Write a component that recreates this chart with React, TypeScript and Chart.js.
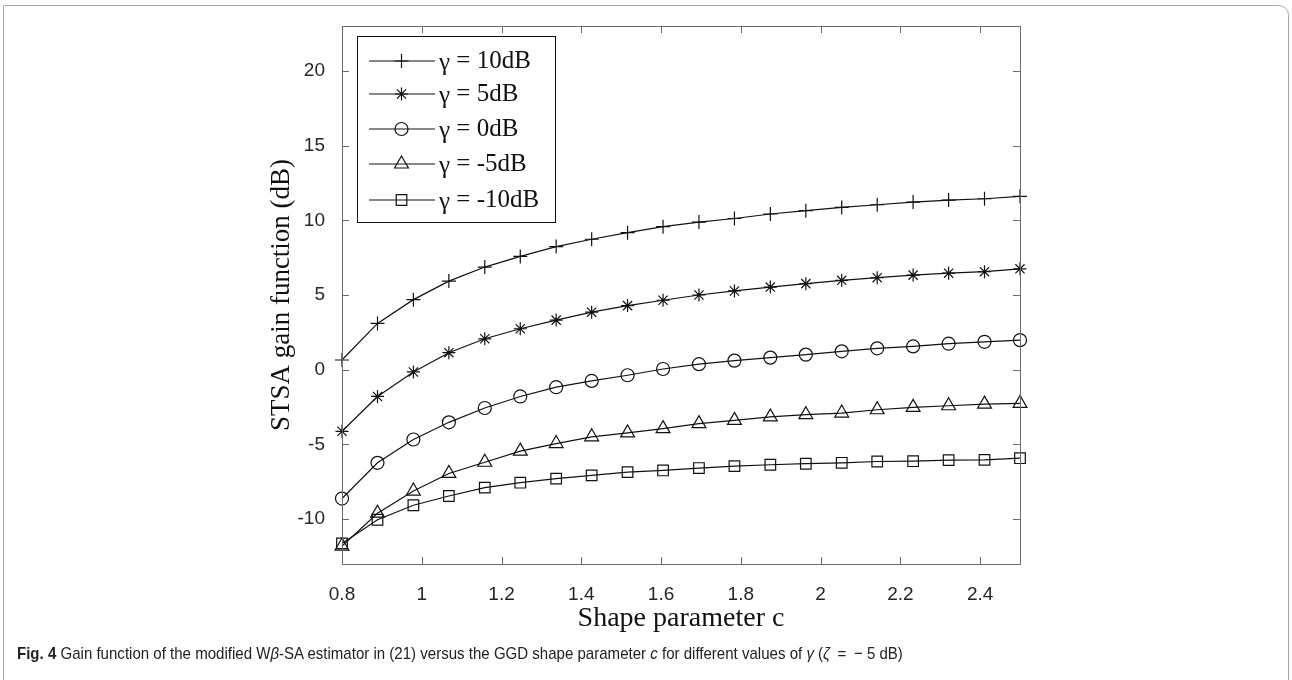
import React, { useEffect, useRef } from 'react';
import { Chart, registerables } from 'chart.js';

Chart.register(...registerables);

// ---- data ----
const C_VALUES = [0.8, 0.889, 0.979, 1.068, 1.158, 1.247, 1.337, 1.426, 1.516, 1.605, 1.695, 1.784, 1.874, 1.963, 2.053, 2.142, 2.232, 2.321, 2.411, 2.5];
const GAIN_10DB = [0.65, 3.1, 4.69, 5.93, 6.87, 7.58, 8.24, 8.73, 9.17, 9.57, 9.88, 10.12, 10.42, 10.64, 10.86, 11.04, 11.22, 11.35, 11.44, 11.6];
const GAIN_5DB = [-4.12, -1.79, -0.15, 1.14, 2.07, 2.74, 3.32, 3.85, 4.29, 4.65, 5.0, 5.27, 5.53, 5.76, 5.98, 6.16, 6.33, 6.46, 6.56, 6.75];
const GAIN_0DB = [-8.62, -6.23, -4.67, -3.52, -2.56, -1.79, -1.17, -0.75, -0.37, 0.05, 0.37, 0.61, 0.81, 1.01, 1.23, 1.43, 1.56, 1.74, 1.87, 1.98];
const GAIN_M5DB = [-11.8, -9.6, -8.12, -6.94, -6.19, -5.45, -4.94, -4.49, -4.23, -3.94, -3.61, -3.39, -3.16, -3.01, -2.9, -2.68, -2.52, -2.41, -2.3, -2.25];
const GAIN_M10DB = [-11.62, -10.04, -9.07, -8.45, -7.89, -7.56, -7.29, -7.07, -6.85, -6.74, -6.58, -6.45, -6.36, -6.29, -6.23, -6.14, -6.12, -6.05, -6.03, -5.92];
const SERIES_LABELS = ['10dB', '5dB', '0dB', '-5dB', '-10dB'];
const X_TICKS = [0.8, 1, 1.2, 1.4, 1.6, 1.8, 2, 2.2, 2.4];
const Y_TICKS = [-10, -5, 0, 5, 10, 15, 20];
const X_TITLE = 'Shape parameter c';
const Y_TITLE = 'STSA gain function (dB)';

// ---- styles / layout ----
const W = 1292;
const H = 680;
const AREA = { left: 342, top: 26, right: 1020, bottom: 564 };
const MARKERS = ['cross', 'star', 'circle', 'triangle', 'rect'];
const RADII = [7, 6.5, 6.5, 8, 7.5];
const LINE_COLOR = '#111111';
const AXIS_COLOR = '#6b6b6b';
const TICK_FONT = '"Liberation Sans", Arial, sans-serif';
const SERIF = '"Liberation Serif", "Times New Roman", serif';

function drawMarker(ctx: CanvasRenderingContext2D, style: string, x: number, y: number, r: number) {
  ctx.beginPath();
  if (style === 'cross') {
    ctx.moveTo(x - r, y); ctx.lineTo(x + r, y);
    ctx.moveTo(x, y - r); ctx.lineTo(x, y + r);
  } else if (style === 'star') {
    const d = r * Math.SQRT1_2;
    ctx.moveTo(x - r, y); ctx.lineTo(x + r, y);
    ctx.moveTo(x, y - r); ctx.lineTo(x, y + r);
    ctx.moveTo(x - d, y - d); ctx.lineTo(x + d, y + d);
    ctx.moveTo(x - d, y + d); ctx.lineTo(x + d, y - d);
  } else if (style === 'circle') {
    ctx.arc(x, y, r, 0, Math.PI * 2);
  } else if (style === 'triangle') {
    const h = r * Math.sin(Math.PI / 3);
    ctx.moveTo(x, y - r);
    ctx.lineTo(x + h, y + r / 2);
    ctx.lineTo(x - h, y + r / 2);
    ctx.closePath();
  } else if (style === 'rect') {
    const s = r * Math.SQRT1_2;
    ctx.rect(x - s, y - s, 2 * s, 2 * s);
  }
  ctx.stroke();
}

const matlabAxesPlugin = {
  id: 'matlabAxes',
  afterDraw(chart: any) {
    const { ctx, chartArea, scales } = chart;
    const { left, right, top, bottom } = chartArea;
    ctx.save();
    // box
    ctx.strokeStyle = AXIS_COLOR;
    ctx.lineWidth = 1;
    ctx.strokeRect(left + 0.5, top + 0.5, right - left, bottom - top);
    // inner ticks
    const tl = 7;
    ctx.beginPath();
    X_TICKS.forEach((v) => {
      const px = Math.round(scales.x.getPixelForValue(v)) + 0.5;
      ctx.moveTo(px, bottom); ctx.lineTo(px, bottom - tl);
      ctx.moveTo(px, top); ctx.lineTo(px, top + tl);
    });
    Y_TICKS.forEach((v) => {
      const py = Math.round(scales.y.getPixelForValue(v)) + 0.5;
      ctx.moveTo(left, py); ctx.lineTo(left + tl, py);
      ctx.moveTo(right, py); ctx.lineTo(right - tl, py);
    });
    ctx.stroke();

    // axis titles
    ctx.fillStyle = '#111111';
    ctx.textAlign = 'center';
    ctx.textBaseline = 'middle';
    ctx.font = `28px ${SERIF}`;
    ctx.fillText(X_TITLE, (left + right) / 2, 619);
    ctx.save();
    ctx.font = `27px ${SERIF}`;
    ctx.translate(282, (top + bottom) / 2);
    ctx.rotate(-Math.PI / 2);
    ctx.fillText(Y_TITLE, 0, 0);
    ctx.restore();

    // legend
    const lx = 357, ly = 36, lw = 198, lh = 186;
    ctx.fillStyle = '#ffffff';
    ctx.fillRect(lx, ly, lw, lh);
    ctx.strokeStyle = '#111111';
    ctx.lineWidth = 1;
    ctx.strokeRect(lx + 0.5, ly + 0.5, lw, lh);
    const rowY = [61, 94, 129, 164, 200];
    chart.data.datasets.forEach((ds: any, i: number) => {
      const y = rowY[i];
      ctx.strokeStyle = LINE_COLOR;
      ctx.lineWidth = 1.2;
      ctx.beginPath();
      ctx.moveTo(369, y); ctx.lineTo(435, y);
      ctx.stroke();
      drawMarker(ctx, MARKERS[i], 401.5, y, RADII[i]);
      ctx.fillStyle = '#111111';
      ctx.textAlign = 'left';
      ctx.textBaseline = 'middle';
      ctx.font = `25px ${SERIF}`;
      ctx.fillText('\u03B3', 439, y + 2);
      const gw = ctx.measureText('\u03B3').width;
      ctx.fillText(' = ' + SERIES_LABELS[i], 439 + gw, y);
    });
    ctx.restore();
  },
};

export default function App() {
  const canvasRef = useRef<HTMLCanvasElement | null>(null);

  useEffect(() => {
    const canvas = canvasRef.current;
    if (!canvas) return;
    const seriesValues = [GAIN_10DB, GAIN_5DB, GAIN_0DB, GAIN_M5DB, GAIN_M10DB];
    const chart = new Chart(canvas, {
      type: 'line',
      data: {
        datasets: seriesValues.map((vals, i) => ({
          label: '\u03B3 = ' + SERIES_LABELS[i],
          data: C_VALUES.map((c, j) => ({ x: c, y: vals[j] })),
          borderColor: LINE_COLOR,
          borderWidth: 1.2,
          backgroundColor: 'transparent',
          pointStyle: MARKERS[i] as any,
          pointRadius: RADII[i],
          pointBorderWidth: 1.2,
          pointBorderColor: LINE_COLOR,
          pointBackgroundColor: 'rgba(0,0,0,0)',
          tension: 0,
          fill: false,
          clip: false as any,
        })),
      },
      options: {
        responsive: false,
        animation: false,
        devicePixelRatio: 1,
        layout: { padding: { left: 0, top: AREA.top, right: W - AREA.right, bottom: 0 } },
        plugins: { legend: { display: false }, tooltip: { enabled: false }, title: { display: false } },
        scales: {
          x: {
            type: 'linear',
            min: 0.8,
            max: 2.5,
            grid: { display: false },
            border: { display: false },
            afterBuildTicks: (s: any) => { s.ticks = X_TICKS.map((v) => ({ value: v })); },
            afterFit: (s: any) => { s.height = H - AREA.bottom; },
            ticks: {
              autoSkip: false,
              maxRotation: 0,
              padding: 11,
              color: '#262626',
              font: { family: TICK_FONT, size: 19 },
              callback: (v: any) => String(v),
            },
          },
          y: {
            type: 'linear',
            min: -13,
            max: 23,
            grid: { display: false },
            border: { display: false },
            afterBuildTicks: (s: any) => { s.ticks = Y_TICKS.map((v) => ({ value: v })); },
            afterFit: (s: any) => { s.width = AREA.left; },
            ticks: {
              autoSkip: false,
              padding: 9,
              color: '#262626',
              font: { family: TICK_FONT, size: 19 },
              callback: (v: any) => String(v),
            },
          },
        },
      },
      plugins: [matlabAxesPlugin],
    });
    return () => chart.destroy();
  }, []);

  return (
    <div style={{ position: 'absolute', left: 0, top: 0, width: W, height: H, overflow: 'hidden', background: '#fff' }}>
      <canvas ref={canvasRef} width={W} height={H} style={{ position: 'absolute', left: 0, top: 0, width: W, height: H, display: 'block' }} />
      <div
        style={{
          position: 'absolute', left: 3, top: 5, width: 1286, height: 720,
          border: '1px solid #a8a8a8', borderTopRightRadius: 10, boxSizing: 'border-box', pointerEvents: 'none',
        }}
      />
      <div
        style={{
          position: 'absolute', left: 17, top: 644, whiteSpace: 'nowrap',
          fontFamily: '"Liberation Sans", Arial, sans-serif',
          fontSize: 17, color: '#222', transformOrigin: 'left center', transform: 'scaleX(0.885)',
        }}
      >
        <b>Fig. 4</b> Gain function of the modified W<i>β</i>-SA estimator in (21) versus the GGD shape parameter <i>c</i> for different values of <i>γ</i> (<i>ζ</i>{'\u2002=\u2002\u2212 5 dB)'}
      </div>
    </div>
  );
}
